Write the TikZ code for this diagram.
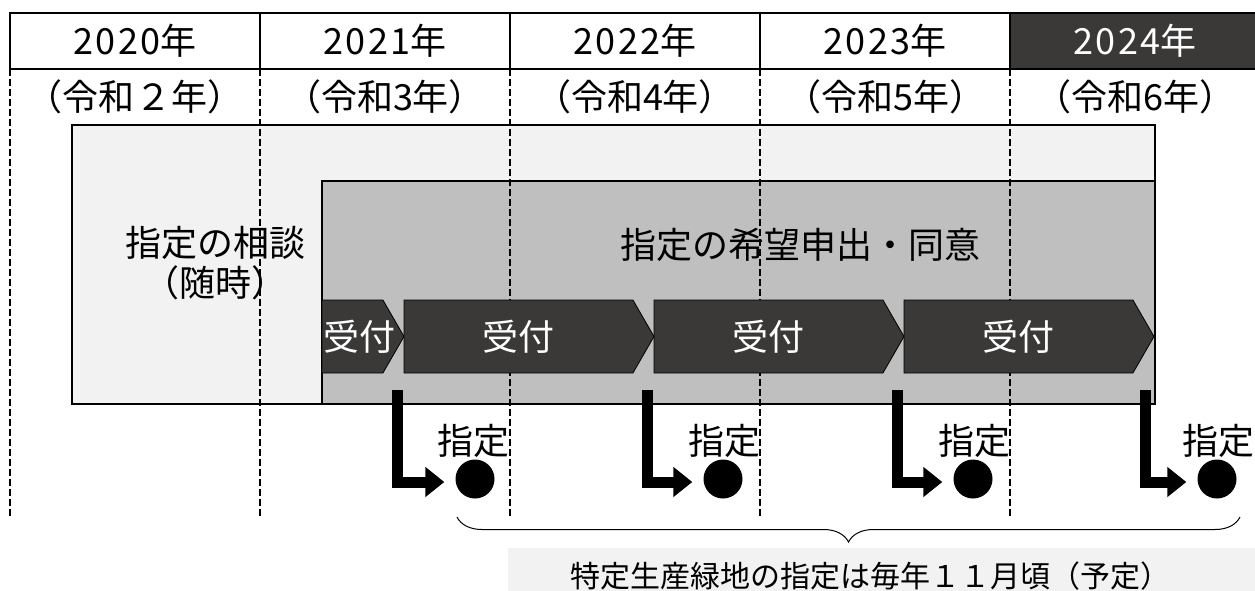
\documentclass[tikz,border=0pt]{standalone}
\usepackage{fontspec}
\setmainfont{Noto Sans CJK JP}
\newfontfamily\numfont{Noto Sans CJK JP}[LetterSpace=6]
\usepackage{xcolor}
\usepackage{tikz}
\usetikzlibrary{positioning}
\usetikzlibrary{shapes.symbols}
\usetikzlibrary{arrows.meta}
\usetikzlibrary{decorations.pathreplacing}
\definecolor{paleGray}{HTML}{F2F2F2}
\definecolor{midGray}{HTML}{BFBFBF}
\definecolor{darkGray}{HTML}{3A3938}
\newcommand{\yr}[1]{{\numfont #1}年}

\begin{document}
\begin{tikzpicture}
                    [
                    x=1pt, y=1pt,
                    yearcell/.style={draw=black, line width=1.5pt, minimum width=250pt, minimum height=56pt, inner sep=0pt, outer sep=0pt, font=\fontsize{36}{36}\selectfont},
                    eralabel/.style={inner sep=0pt, font=\fontsize{36}{36}\selectfont},
                    bigtext/.style={inner sep=0pt, align=center, font=\fontsize{36}{40}\selectfont},
                    area/.style={draw=black, line width=1.5pt, anchor=north west, inner sep=0pt, outer sep=0pt},
                    chev/.style={shape=signal, signal to=east, signal pointer angle=120, fill=darkGray, draw=black, line width=0.8pt, text=white, minimum height=73pt, inner sep=0pt, outer sep=0pt, font=\fontsize{36}{36}\selectfont},
                    dot/.style={circle, fill=black, inner sep=0pt, minimum size=39pt},
                    shitei/.style={inner sep=0pt, font=\fontsize{36}{36}\selectfont},
                    yearline/.style={line width=1.5pt, dash pattern=on 7pt off 3pt},
                    bendarrow/.style={line width=11pt, -{Triangle[length=19pt, width=29pt]}, shorten >=11pt},
                    ]
                    \useasboundingbox (0,0) rectangle (1255,-590);
                    % 年の見出し
                    \node[yearcell, anchor=north west] (y2020) at (10,-13) {\yr{2020}};
                    \node[yearcell, right=0pt of y2020] (y2021) {\yr{2021}};
                    \node[yearcell, right=0pt of y2021] (y2022) {\yr{2022}};
                    \node[yearcell, right=0pt of y2022] (y2023) {\yr{2023}};
                    \node[yearcell, fill=darkGray, text=white, right=0pt of y2023] (y2024) {\yr{2024}};
                    %
                    \node[eralabel] (r2) at (135,-97) {（令和２年）};
                    \node[eralabel] (r3) at (385,-97) {（令和3年）};
                    \node[eralabel] (r4) at (635,-97) {（令和4年）};
                    \node[eralabel] (r5) at (885,-97) {（令和5年）};
                    \node[eralabel] (r6) at (1135,-97) {（令和6年）};
                    % 相談・申出の範囲
                    \node[area, fill=paleGray, minimum width=1083pt, minimum height=279pt] (soudan) at (72,-125) {};
                    \node[area, fill=midGray, minimum width=833pt, minimum height=223pt] (moushide) at (322,-181) {};
                    \node[bigtext] (soudantxt) at (215,-263) {指定の相談\\（随時）};
                    \node[bigtext] (moushidetxt) at (800,-245) {指定の希望申出・同意};
                    %
                    \foreach \c in {y2020,y2021,y2022,y2023,y2024}
                        \draw[yearline] (\c.south west) -- ++(0,-448);
                    % 受付
                    \node[chev, minimum width=82pt, anchor=west] (uke0) at (322,-336.5) {\makebox[40pt]{\hspace{14pt}受付}};
                    \node[chev, minimum width=250pt, right=0pt of uke0] (uke1) {受付};
                    \node[chev, minimum width=250pt, right=0pt of uke1] (uke2) {受付};
                    \node[chev, minimum width=250pt, right=0pt of uke2] (uke3) {受付};
                    % 指定
                    \coordinate (s1) at (397,-390);
                    \coordinate (s2) at (647,-390);
                    \coordinate (s3) at (897,-390);
                    \coordinate (s4) at (1145,-390);
                    \node[dot] (d1) at (475,-479) {};
                    \node[dot] (d2) at (723,-479) {};
                    \node[dot] (d3) at (973,-479) {};
                    \node[dot] (d4) at (1217,-479) {};
                    \node[shitei] (l1) at (473,-441) {指定};
                    \node[shitei] (l2) at (724,-441) {指定};
                    \node[shitei] (l3) at (974,-441) {指定};
                    \node[shitei] (l4) at (1218,-441) {指定};
                    \foreach \i in {1,...,4}
                        \draw[bendarrow] (s\i) |- ([yshift=-3pt]d\i.west);
                    % 注記
                    \coordinate (bl) at (457,-517);
                    \coordinate (br) at (1240,-517);
                    \draw[decorate, decoration={brace, mirror, amplitude=25pt}, line width=1pt] (bl) -- (br);
                    \node[fill=paleGray, anchor=north west, minimum width=760pt, minimum height=50pt, inner sep=0pt, outer sep=0pt] (notebg) at (508,-548) {};
                    \node[inner sep=0pt, font=\fontsize{30}{30}\selectfont] (note) at (870,-576) {特定生産緑地の指定は毎年１１月頃（予定）};
                \end{tikzpicture}
\end{document}
